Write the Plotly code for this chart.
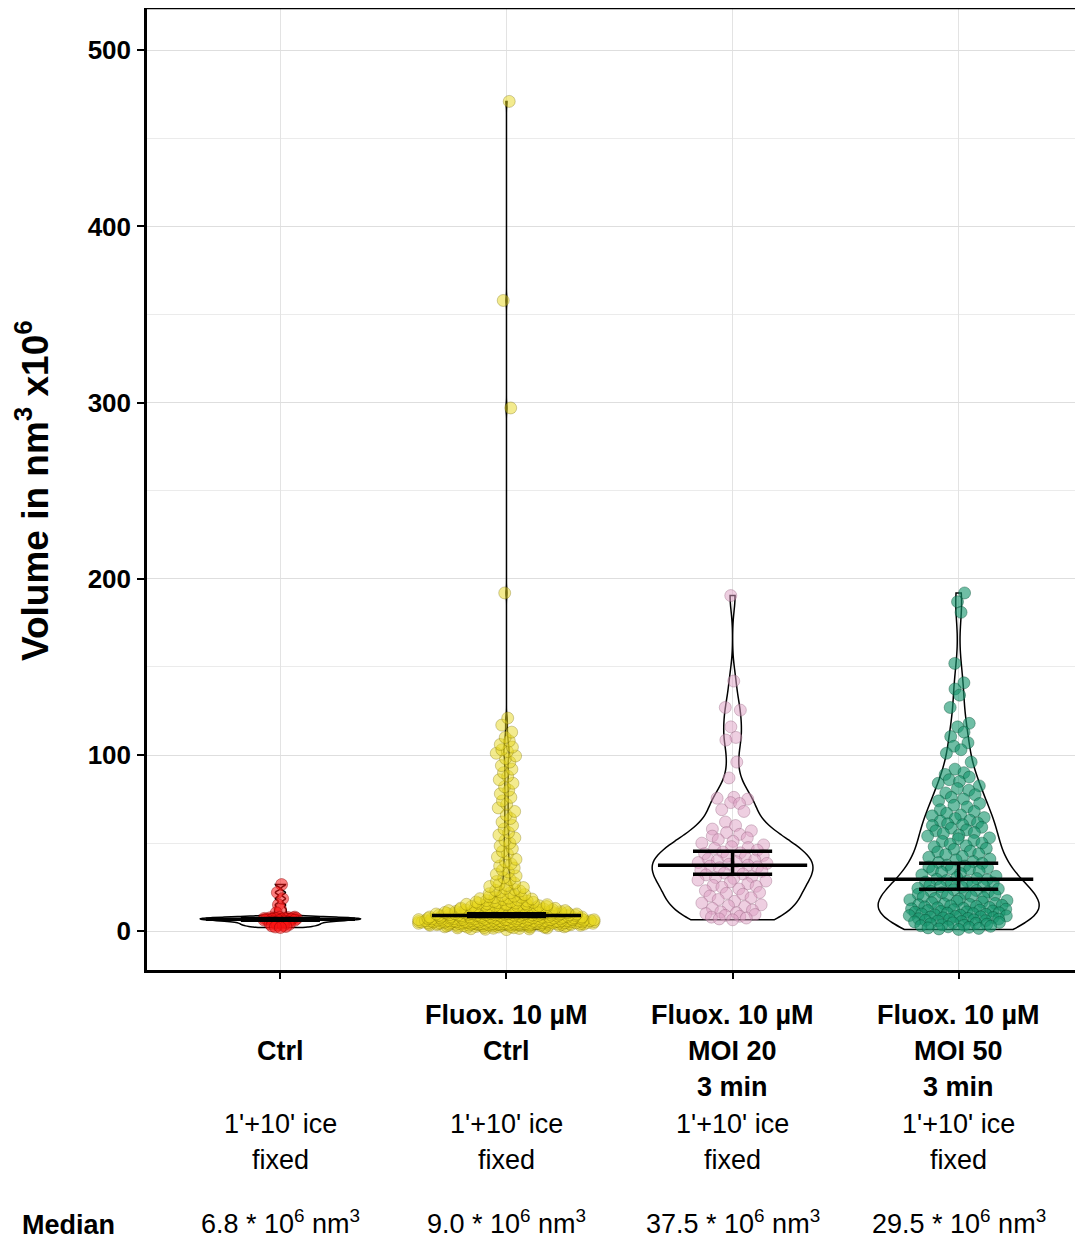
import numpy as np
import plotly.graph_objects as go

# ---------------- data ----------------
categories = ["Ctrl", "Fluox Ctrl", "Fluox MOI 20", "Fluox MOI 50"]
positions = [0, 1, 2, 3]

ctrl_vals = [26.5, 22.0, 18.5, 15.0, 12.5, 10.5,
             8.0, 7.9, 7.8, 7.7, 7.6, 7.5, 7.4, 7.3, 7.2, 7.1, 7.0, 6.9,
             6.8,
             6.7, 6.6, 6.4, 6.2, 6.0, 5.7, 5.4, 5.1, 4.8, 4.5, 4.2, 3.9, 3.6,
             3.3, 3.0, 2.7, 2.4, 2.1]

fluox_ctrl_vals = [
    0.9, 1.1, 1.3, 1.4, 1.6, 1.7, 1.8, 1.9,
    2.0, 2.1, 2.2, 2.3, 2.3, 2.4, 2.5, 2.5, 2.6, 2.7, 2.7, 2.8, 2.9, 2.9,
    3.0, 3.0, 3.1, 3.1, 3.2, 3.2, 3.3, 3.3, 3.4, 3.4, 3.5, 3.5, 3.5, 3.5, 3.6, 3.6,
    3.7, 3.7, 3.8, 3.8, 3.9, 3.9, 3.9,
    4.0, 4.0, 4.0, 4.1, 4.1, 4.1, 4.2, 4.2, 4.2, 4.3, 4.3, 4.3, 4.4, 4.4, 4.4,
    4.5, 4.5, 4.5, 4.5, 4.6, 4.6, 4.6, 4.7, 4.7, 4.7, 4.8, 4.8, 4.8, 4.9, 4.9,
    5.0, 5.0, 5.0, 5.0, 5.1, 5.1, 5.1, 5.2, 5.2, 5.2, 5.2, 5.3, 5.3, 5.3, 5.4, 5.4, 5.4,
    5.5, 5.5, 5.5, 5.5, 5.6, 5.6, 5.6, 5.7, 5.7, 5.7, 5.8, 5.8, 5.8, 5.8, 5.9, 5.9, 5.9,
    6.0, 6.0, 6.0, 6.0, 6.1, 6.1, 6.1, 6.2, 6.2, 6.3, 6.3, 6.3, 6.4, 6.4,
    6.5, 6.5, 6.5, 6.5, 6.6, 6.6, 6.7, 6.7, 6.8, 6.8, 6.9, 6.9,
    7.0, 7.0, 7.0, 7.1, 7.1, 7.2, 7.2, 7.3, 7.3, 7.4, 7.4, 7.5, 7.5, 7.6, 7.6,
    7.7, 7.7, 7.8, 7.8, 7.9, 7.9,
    8.0, 8.0, 8.1, 8.1, 8.2, 8.2, 8.3, 8.3, 8.4, 8.4, 8.5, 8.5, 8.6, 8.6,
    8.7, 8.8, 8.9, 8.95,
    9.0,
    9.05, 9.1, 9.1, 9.2, 9.2, 9.3, 9.3, 9.4, 9.4, 9.5, 9.5, 9.6, 9.6, 9.7, 9.7,
    9.8, 9.8, 9.9, 9.9, 9.95,
    10.0, 10.0, 10.1, 10.1, 10.2, 10.2, 10.3, 10.3, 10.4, 10.5, 10.5, 10.6, 10.7, 10.7,
    10.8, 10.9, 10.9,
    11.0, 11.0, 11.1, 11.2, 11.2, 11.3, 11.4, 11.4, 11.5, 11.6, 11.7, 11.7, 11.8, 11.9,
    12.0, 12.1, 12.2, 12.2, 12.3, 12.4, 12.5, 12.6, 12.7, 12.7, 12.8, 12.9,
    13.0, 13.1, 13.3, 13.4, 13.5, 13.6, 13.8, 13.9, 14.0, 14.1, 14.3, 14.4, 14.5, 14.7,
    14.8, 14.9,
    15.1, 15.3, 15.4, 15.6, 15.7, 15.9, 16.0, 16.2, 16.4, 16.6, 16.8, 16.9,
    17.1, 17.4, 17.7, 18.0, 18.3, 18.5, 18.8, 19.1, 19.3, 19.6, 19.9,
    20.3, 20.8, 21.3, 21.8, 22.3, 22.8, 23.2, 23.7, 24.3, 24.8, 25.4, 26.0, 26.6,
    27.3, 28.2, 29.3, 30.3, 31.4, 32.4, 33.6, 34.7, 35.9, 37.0, 38.2, 39.4,
    40.8, 42.2, 43.9, 45.3, 46.8, 48.4, 50.0, 51.5, 53.0, 54.6,
    56.0, 58.0, 60.0, 62.0, 64.0, 66.0, 68.0, 70.0, 72.0, 74.0, 76.0, 78.0, 80.0,
    82.0, 84.0, 86.0, 88.0, 90.0, 92.0, 94.0, 96.0, 98.0, 99.5, 101.0, 102.0, 103.0,
    104.5, 106.0, 108.0, 110.0, 113.0, 117.0, 121.0,
    192.0, 297.0, 358.0, 471.0]

moi20_vals = [
    190.5, 142.0, 127.0, 125.5, 116.0, 110.0, 108.5, 96.0, 87.0,
    76.0, 75.5, 75.0, 73.0, 72.5, 69.0, 68.0,
    62.0, 60.0, 58.0, 57.0, 56.0, 55.0, 54.0, 53.0, 52.0, 51.0, 50.0, 49.0, 48.0, 47.5,
    47.0, 46.0, 45.0, 44.5, 44.0, 43.0, 42.5, 42.0, 41.0, 40.5, 40.0, 39.5, 39.0, 38.5, 38.0,
    37.5, 37.0, 36.5, 36.0, 35.0, 34.5, 34.0, 33.0, 32.5, 32.0, 31.0, 30.5, 30.0, 29.0,
    28.5, 28.0, 27.0, 26.0, 25.5, 25.0, 24.0, 23.0, 22.0, 21.5, 21.0, 20.0, 19.0, 18.0,
    17.0, 16.0, 15.0, 14.5, 14.0, 13.0, 12.0, 11.0, 10.5, 10.0, 9.5, 9.0, 8.5, 8.0, 7.5,
    7.0, 6.5]

moi50_vals = [
    192.0, 187.0, 181.0, 152.0, 141.0, 137.5, 134.0, 127.0, 118.0, 116.0, 113.0, 110.5,
    107.0, 105.0, 103.0, 101.0, 96.0, 92.0,
    90.0, 89.0, 87.5, 86.0, 85.0, 84.0, 82.5, 81.0, 80.0, 78.5, 77.5, 76.0, 75.0, 74.0,
    72.5, 71.5, 70.5, 69.0, 68.0, 67.0, 66.0, 65.5, 64.5, 64.0, 63.0, 62.5, 61.5, 61.0,
    60.5, 60.0,
    59.0, 58.5, 57.5, 57.0, 56.0, 55.5, 54.5, 54.0, 53.0, 52.5, 51.5, 51.0, 50.0, 49.5,
    48.5, 48.0, 47.0, 46.5, 45.5, 45.0, 44.0, 43.5, 42.5, 42.0, 41.0, 40.5, 39.5, 39.0,
    38.5, 37.5, 37.0, 36.5, 36.0, 35.5, 35.2,
    34.8, 34.0, 33.5, 32.8, 32.0, 31.2, 30.5, 29.9,
    29.5,
    29.2, 28.8, 28.3, 27.9, 27.4, 27.0, 26.6, 26.1, 25.7, 25.3, 24.9, 24.4, 24.0, 23.6,
    23.1, 22.7, 22.3, 21.9, 21.4, 21.0, 20.6, 20.2, 19.8, 19.4, 19.0, 18.6, 18.2, 17.8,
    17.4, 17.0, 16.6, 16.2, 15.8, 15.5, 15.2, 15.0,
    14.7, 14.4, 14.1, 13.8, 13.5, 13.3, 13.0, 12.7, 12.5, 12.2, 12.0, 11.7, 11.5, 11.2,
    11.0, 10.8, 10.5, 10.3, 10.0, 9.8, 9.6, 9.3, 9.1, 8.9, 8.7, 8.4, 8.2, 8.0, 7.8, 7.6,
    7.3, 7.1, 6.9, 6.7, 6.5, 6.2, 6.0, 5.8, 5.5, 5.3, 5.0, 4.8, 4.5, 4.2, 4.0, 3.7, 3.4,
    3.1, 2.8, 2.5, 2.2, 1.9, 1.6, 1.3, 1.0]

group_values = [ctrl_vals, fluox_ctrl_vals, moi20_vals, moi50_vals]

medians = [6.8, 9.0, 37.5, 29.5]
ci_low = [6.3, 8.3, 32.3, 23.8]
ci_high = [7.3, 9.9, 45.4, 38.6]

label_row1 = ["", "Fluox. 10 µM", "Fluox. 10 µM", "Fluox. 10 µM"]
label_row2 = ["Ctrl", "Ctrl", "MOI 20", "MOI 50"]
label_row3 = ["", "", "3 min", "3 min"]
label_row4 = ["1'+10' ice", "1'+10' ice", "1'+10' ice", "1'+10' ice"]
label_row5 = ["fixed", "fixed", "fixed", "fixed"]
median_labels = ["6.8 * 10<sup>6</sup> nm<sup>3</sup>", "9.0 * 10<sup>6</sup> nm<sup>3</sup>",
                 "37.5 * 10<sup>6</sup> nm<sup>3</sup>", "29.5 * 10<sup>6</sup> nm<sup>3</sup>"]
y_title = "Volume in nm<sup>3</sup> x10<sup>6</sup>"

y_ticks = [0, 100, 200, 300, 400, 500]

# ---------------- style ----------------
fill_colors = ["rgba(250,20,20,0.55)", "rgba(232,216,30,0.5)",
               "rgba(222,160,196,0.5)", "rgba(22,150,110,0.62)"]
edge_colors = ["rgba(130,0,0,0.6)", "rgba(110,100,0,0.45)",
               "rgba(150,100,130,0.55)", "rgba(0,70,45,0.55)"]
cloud_halfwidth_px = [20, 92, 38, 52]
cloud_min_px = [4, 6, 6, 6]

FONT = "Liberation Sans, Arial, Helvetica, sans-serif"
OFF = 8                      # page body margin
W, H = 1083 - OFF, 1240 - OFF
ML, MR, MT = 147 - OFF, 0, 0
BOTTOM_PAGE = 970
MB = H - (BOTTOM_PAGE - OFF)
XR = [-0.59, 3.55]
YR = [-22, 524]
plot_w = W - ML - MR
plot_h = H - MT - MB
px_x = plot_w / (XR[1] - XR[0])
px_y = plot_h / (YR[1] - YR[0])


def nrd0(v):
    v = np.asarray(v, float)
    sd = v.std(ddof=1)
    q75, q25 = np.percentile(v, [75, 25])
    lo = min(sd, (q75 - q25) / 1.34)
    if lo <= 0:
        lo = sd
    return 0.9 * lo * len(v) ** -0.2


def vdc(n, base=2):
    v, denom = 0.0, 1.0
    while n:
        denom *= base
        n, r = divmod(n, base)
        v += r / denom
    return v


def quasi_offsets(vals, hw_px, min_px, p=0.6, adjust=0.7):
    v = np.asarray(vals, float)
    bw = nrd0(v) * adjust
    d = np.exp(-0.5 * ((v[:, None] - v[None, :]) / bw) ** 2).sum(axis=1)
    d = d / d.max()
    hw = np.maximum(min_px, hw_px * d ** p)
    order = np.argsort(v, kind="stable")
    offs = np.empty(len(v))
    for rank, idx in enumerate(order):
        offs[idx] = (2 * vdc(rank + 1) - 1) * hw[idx]
    return offs / px_x


fig = go.Figure()

# violins (library KDE)
for pos, vals in zip(positions, group_values):
    fig.add_trace(go.Violin(
        x=[pos] * len(vals), y=vals, points=False, spanmode="hard",
        scalemode="width", width=0.71, bandwidth=nrd0(vals),
        line=dict(color="black", width=1.5), fillcolor="rgba(0,0,0,0)",
        box_visible=False, meanline_visible=False, showlegend=False,
        hoverinfo="skip"))

# points
for i, (pos, vals) in enumerate(zip(positions, group_values)):
    offs = quasi_offsets(vals, cloud_halfwidth_px[i], cloud_min_px[i])
    fig.add_trace(go.Scatter(
        x=pos + offs, y=vals, mode="markers", showlegend=False,
        marker=dict(size=12, color=fill_colors[i],
                    line=dict(color=edge_colors[i], width=0.7)),
        hoverinfo="y"))

# median + CI bars
lx, ly = [], []
for pos, m, lo, hi in zip(positions, medians, ci_low, ci_high):
    lx += [pos - 0.33, pos + 0.33, None]
    ly += [m, m, None]
    lx += [pos - 0.175, pos + 0.175, None, pos - 0.175, pos + 0.175, None]
    ly += [lo, lo, None, hi, hi, None]
    lx += [pos, pos, None]
    ly += [lo, hi, None]
fig.add_trace(go.Scatter(x=lx, y=ly, mode="lines", showlegend=False,
                         line=dict(color="black", width=3.5), hoverinfo="skip"))


# ---------------- annotations ----------------
def paper_y(page_pix):
    return (H - MB - (page_pix - OFF)) / plot_h


def paper_x(page_pix):
    return (page_pix - OFF - ML) / plot_w


ann = []
rows = [(label_row1, 1015, "bold"), (label_row2, 1051, "bold"), (label_row3, 1087, "bold"),
        (label_row4, 1124, "normal"), (label_row5, 1160, "normal")]
for texts, pix, weight in rows:
    for pos, t in zip(positions, texts):
        if t:
            ann.append(dict(x=pos, xref="x", y=paper_y(pix), yref="paper", text=t,
                            showarrow=False, xanchor="center", yanchor="middle",
                            font=dict(family=FONT, size=27, color="black", weight=weight)))
for pos, t in zip(positions, median_labels):
    ann.append(dict(x=pos, xref="x", y=paper_y(1222), yref="paper", text=t,
                    showarrow=False, xanchor="center", yanchor="middle",
                    font=dict(family=FONT, size=27, color="black")))
ann.append(dict(x=paper_x(68), xref="paper", y=paper_y(1225), yref="paper", text="Median",
                showarrow=False, xanchor="center", yanchor="middle",
                font=dict(family=FONT, size=27, color="black", weight="bold")))
ann.append(dict(x=paper_x(33), xref="paper", y=paper_y(491), yref="paper",
                text=y_title, textangle=-90,
                showarrow=False, xanchor="center", yanchor="middle",
                font=dict(family=FONT, size=37, color="black", weight="bold")))

fig.update_layout(
    width=W, height=H, margin=dict(l=ML, r=MR, t=MT, b=MB),
    paper_bgcolor="white", plot_bgcolor="white", violinmode="overlay",
    annotations=ann, showlegend=False,
    shapes=[dict(type="line", xref="paper", yref="paper", x0=0, x1=1, y0=1, y1=1,
                 line=dict(color="black", width=2.5))],
    xaxis=dict(range=XR, tickvals=positions, showticklabels=False, ticks="outside",
               ticklen=6, tickwidth=1.5, tickcolor="black", showgrid=True,
               gridcolor="#e3e3e3", gridwidth=1, zeroline=False, showline=True,
               linecolor="black", linewidth=2.5, fixedrange=True),
    yaxis=dict(range=YR, tickvals=y_ticks, ticks="outside", ticklen=7, tickwidth=1.5,
               tickcolor="black", showgrid=True, gridcolor="#dedede", gridwidth=1,
               minor=dict(dtick=50, tick0=0, showgrid=True, gridcolor="#ebebeb",
                          gridwidth=1, ticks=""),
               zeroline=False, showline=True, linecolor="black", linewidth=2.5,
               ticklabelstandoff=1,
               tickfont=dict(family=FONT, size=26, color="black", weight="bold"),
               fixedrange=True),
)

fig.write_html("out.html", config={"displayModeBar": False})
